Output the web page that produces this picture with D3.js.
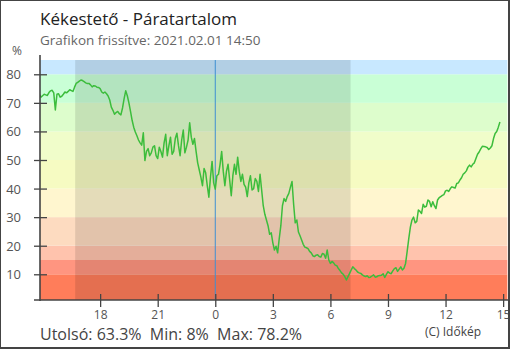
<!DOCTYPE html>
<html><head><meta charset="utf-8">
<script src="https://d3js.org/d3.v7.min.js"></script>
<style>body{margin:0;background:#fff}svg{display:block;font-family:"Open Sans",sans-serif}</style>
</head><body>
<svg id="c" width="510" height="350"></svg>
<script>
const titleText = "Kékestető - Páratartalom";
const subtitleText = "Grafikon frissítve: 2021.02.01 14:50";
const footerText = "Utolsó: 63.3%  Min: 8%  Max: 78.2%";
const creditText = "(C) Időkép";
const unitText = "%";

const startTime = "2021-01-31T14:50";
const stepMinutes = 5;
const humidity = [
 73.0,72.0,72.5,73.0,72.8,72.6,73.6,74.2,74.4,73.5,
 67.5,73.0,73.2,72.0,72.3,73.0,73.8,73.5,74.0,74.6,
 74.3,74.0,75.5,76.8,77.2,77.6,78.0,77.8,77.4,77.0,
 76.8,76.8,76.3,75.6,76.0,75.9,75.5,75.4,75.0,73.8,
 73.4,73.8,73.2,72.4,71.0,68.5,67.4,66.0,66.6,67.0,
 66.2,65.8,68.2,71.5,74.2,72.5,70.0,67.0,63.9,61.5,
 59.8,58.5,57.0,56.0,55.2,59.5,49.8,53.0,54.0,51.5,
 52.5,54.5,55.0,51.5,50.5,54.5,53.0,51.0,56.0,59.0,
 51.5,55.0,58.0,52.0,53.0,57.5,59.4,55.0,51.5,57.0,
 60.5,52.5,54.5,57.0,63.0,58.0,55.5,57.5,53.0,49.0,
 46.5,44.0,41.0,47.0,45.5,41.0,37.0,44.0,49.5,42.0,
 39.8,44.5,45.0,48.5,53.0,46.0,41.0,46.0,48.5,43.0,
 37.5,44.5,48.5,45.0,51.0,46.0,42.5,45.0,41.5,40.5,
 37.2,42.0,44.5,39.5,40.0,43.5,42.5,39.0,45.0,39.5,
 34.0,31.0,29.0,27.0,24.0,24.5,21.0,18.5,19.8,17.5,
 22.5,27.0,34.0,36.5,35.5,37.2,38.3,40.5,42.5,34.5,
 28.0,29.0,24.8,23.5,22.0,20.5,19.5,19.3,19.0,18.0,
 17.5,16.5,16.2,16.7,16.8,16.2,16.0,17.3,17.0,15.6,
 18.5,15.0,13.8,14.5,14.0,13.2,13.0,12.0,11.3,10.5,
 10.0,9.2,8.0,9.2,10.3,11.5,12.6,12.0,11.5,10.8,
 10.5,10.3,9.8,9.4,9.2,9.5,8.9,9.0,9.4,9.8,
 9.0,9.1,9.5,9.6,9.7,10.2,8.9,10.0,10.9,10.4,
 10.2,11.2,12.0,12.3,11.0,11.8,12.6,11.5,12.1,13.8,
 18.0,22.5,26.5,29.0,30.0,28.0,28.5,32.5,32.0,31.3,
 34.5,33.5,33.8,36.0,35.5,33.6,35.4,34.0,33.0,36.0,
 36.8,37.2,37.6,37.9,39.2,39.4,39.0,40.0,40.6,40.4,
 40.2,41.8,42.0,43.0,43.8,45.0,45.5,46.2,47.5,48.2,
 47.6,48.5,49.0,50.5,52.0,52.8,53.9,54.8,54.7,54.6,
 54.4,53.7,54.2,55.0,57.5,59.3,60.0,61.5,63.3
];

const axisStart = "2021-01-31T14:52";
const axisEnd = "2021-02-01T15:14";
const tickTimes = ["2021-01-31T18:00","2021-01-31T21:00","2021-02-01T00:00","2021-02-01T03:00","2021-02-01T06:00","2021-02-01T09:00","2021-02-01T12:00","2021-02-01T15:00"];
const midnight = "2021-02-01T00:00";
const sunset = "2021-01-31T16:42";
const sunrise = "2021-02-01T07:03";

const yTicks = [10,20,30,40,50,60,70,80];
const bandEdges = [0,10,15,20,30,40,50,60,70,80,85];
const bandColors = ["#ff7d5a","#ff9580","#ffc3ad","#fddbc0","#fff6cf","#f6fbc2","#f0fdca","#ddfdcc","#c9ffd6","#c8e8ff"];

const parse = d3.timeParse("%Y-%m-%dT%H:%M");
const t0 = parse(startTime);
const data = humidity.map((v,i)=>({t:d3.timeMinute.offset(t0,i*stepMinutes), v}));

const svg = d3.select("#c");
const L=40, R=507.6, T=60, B=300;
const x = d3.scaleTime().domain([parse(axisStart),parse(axisEnd)]).range([L,R]);
const y = d3.scaleLinear().domain([1,85]).range([B,T]);

svg.append("defs").append("clipPath").attr("id","clip")
  .append("rect").attr("x",L).attr("y",T).attr("width",R-L).attr("height",B-T);

const plot = svg.append("g").attr("clip-path","url(#clip)");
bandColors.forEach((c,i)=>{
  plot.append("rect").attr("x",L).attr("width",R-L)
    .attr("y",y(bandEdges[i+1])).attr("height",y(bandEdges[i])-y(bandEdges[i+1]))
    .attr("fill",c);
});
plot.append("rect").attr("x",x(parse(sunset))).attr("width",x(parse(sunrise))-x(parse(sunset)))
  .attr("y",T).attr("height",B-T).attr("fill","#000").attr("fill-opacity",0.105);
plot.append("line").attr("x1",x(parse(midnight))).attr("x2",x(parse(midnight)))
  .attr("y1",T).attr("y2",B).attr("stroke","#3f8fd2").attr("stroke-width",1);
plot.append("path").datum(data)
  .attr("d",d3.line().x(d=>x(d.t)).y(d=>y(d.v)))
  .attr("fill","none").attr("stroke","#3cbd3c").attr("stroke-width",1.5).attr("stroke-linejoin","round");

// y axis
const ya = svg.append("g").attr("transform",`translate(${L},0)`)
  .call(d3.axisLeft(y).tickValues(yTicks).tickSize(6).tickPadding(0));
ya.select(".domain").remove();
ya.selectAll(".tick line").attr("x1",-6).attr("x2",7).attr("stroke","#444").attr("stroke-width",1.3);
ya.selectAll(".tick text").attr("x",-19).attr("dy","0.35em").attr("fill","#555")
  .style("font-size","13px").style("font-family","'Open Sans',sans-serif");
svg.append("line").attr("x1",L).attr("x2",L).attr("y1",55).attr("y2",B+1)
  .attr("stroke","#444").attr("stroke-width",1.6);

// x axis
const xa = svg.append("g").attr("transform",`translate(0,${B})`)
  .call(d3.axisBottom(x).tickValues(tickTimes.map(parse)).tickFormat(d3.timeFormat("%-H")).tickSize(6));
xa.select(".domain").remove();
xa.selectAll(".tick line").attr("y1",-6).attr("y2",7).attr("stroke","#444").attr("stroke-width",1.3);
xa.selectAll(".tick text").attr("y",10).attr("dy","0.71em").attr("fill","#555")
  .style("font-size","12px").style("font-family","'Open Sans',sans-serif");
svg.append("line").attr("x1",34).attr("x2",R+1).attr("y1",B).attr("y2",B)
  .attr("stroke","#444").attr("stroke-width",1.6);

// texts
svg.append("text").attr("x",40).attr("y",25).text(titleText)
  .attr("fill","#222").style("font-size","17px");
svg.append("text").attr("x",40).attr("y",45).text(subtitleText)
  .attr("fill","#666").style("font-size","13.5px");
svg.append("text").attr("x",17).attr("y",55).attr("text-anchor","middle").text(unitText)
  .attr("fill","#555").style("font-size","12px");
svg.append("text").attr("x",40).attr("y",340).text(footerText).attr("xml:space","preserve")
  .style("white-space","pre").attr("fill","#444").style("font-size","16px");
svg.append("text").attr("x",425).attr("y",335.5).text(creditText)
  .attr("fill","#444").style("font-size","12px");

svg.append("rect").attr("x",0).attr("y",0).attr("width",509).attr("height",348)
  .attr("fill","none").attr("stroke","#444").attr("stroke-width",2);
</script>
</body></html>
